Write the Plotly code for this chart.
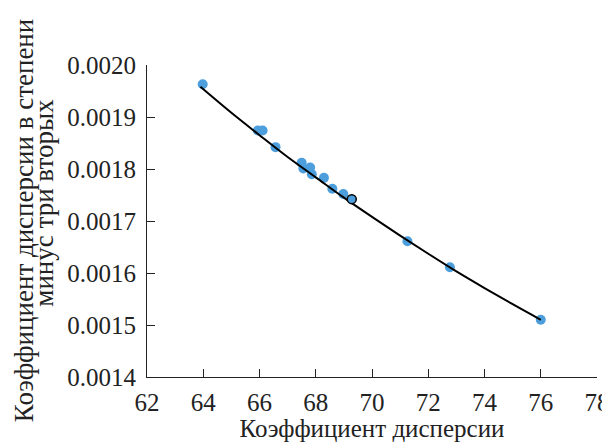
import plotly.graph_objects as go

# Measured points
x_pts = [63.98, 65.94, 66.11, 66.57, 67.50, 67.56, 67.80, 67.86, 68.29, 68.59, 68.98, 71.26, 72.77, 76.00]
y_pts = [0.001963, 0.001874, 0.001874, 0.001842, 0.001812, 0.001801, 0.001803, 0.001790, 0.001783,
         0.001762, 0.001752, 0.001661, 0.001611, 0.001510]

# Highlighted point (black outline)
x_hl = [69.28]
y_hl = [0.001742]

# Fitted curve
x_fit = [63.9, 65.0, 66.0, 67.0, 68.0, 69.0, 70.0, 71.0, 72.0, 73.0, 74.0, 75.0, 76.0]
y_fit = [0.001958, 0.001908, 0.001865, 0.001823, 0.001784, 0.001745, 0.001708, 0.001672,
         0.001637, 0.001603, 0.001571, 0.001540, 0.001510]

x_ticks = [62, 64, 66, 68, 70, 72, 74, 76, 78]
y_ticks = [0.0014, 0.0015, 0.0016, 0.0017, 0.0018, 0.0019, 0.0020]
y_tick_labels = ["0.0014", "0.0015", "0.0016", "0.0017", "0.0018", "0.0019", "0.0020"]

font = "Liberation Serif, Times New Roman, serif"
col = "#222222"
fs = 25
fs_y = 27

fig = go.Figure()
fig.add_trace(go.Scatter(x=x_pts, y=y_pts, mode="markers",
                         marker=dict(size=10, color="#4c9fdc"), showlegend=False))
fig.add_trace(go.Scatter(x=x_fit, y=y_fit, mode="lines", line=dict(color="black", width=2, shape="spline"),
                         showlegend=False))
fig.add_trace(go.Scatter(x=x_hl, y=y_hl, mode="markers",
                         marker=dict(size=9, color="#4c9fdc", line=dict(color="black", width=1.5)),
                         showlegend=False))

fig.update_layout(
    width=602, height=434,
    margin=dict(l=139, r=13, t=57, b=65, autoexpand=False),
    plot_bgcolor="white", paper_bgcolor="white",
    font=dict(family=font, size=fs, color=col),
    xaxis=dict(range=[62, 78], tickvals=x_ticks, ticks="inside", ticklen=8, tickcolor=col,
               showline=True, linecolor=col, linewidth=1, showgrid=False, zeroline=False,
               automargin=False, ticklabelstandoff=3,
               title=dict(text="Коэффициент дисперсии", standoff=4, font=dict(size=fs))),
    yaxis=dict(range=[0.0014, 0.0020], tickvals=y_ticks, ticktext=y_tick_labels, ticks="inside",
               ticklen=8, tickcolor=col, showline=True, linecolor=col, linewidth=1,
               showgrid=False, zeroline=False, automargin=False, ticklabelstandoff=5),
)

fig.add_annotation(text="Коэффициент дисперсии в степени", textangle=-90, xref="paper", yref="paper",
                   x=-0.273, y=0.50, showarrow=False, font=dict(size=fs_y, family=font, color=col),
                   xanchor="center", yanchor="middle")
fig.add_annotation(text="минус три вторых", textangle=-90, xref="paper", yref="paper",
                   x=-0.228, y=0.56, showarrow=False, font=dict(size=fs_y, family=font, color=col),
                   xanchor="center", yanchor="middle")

fig.write_html("out.html")
